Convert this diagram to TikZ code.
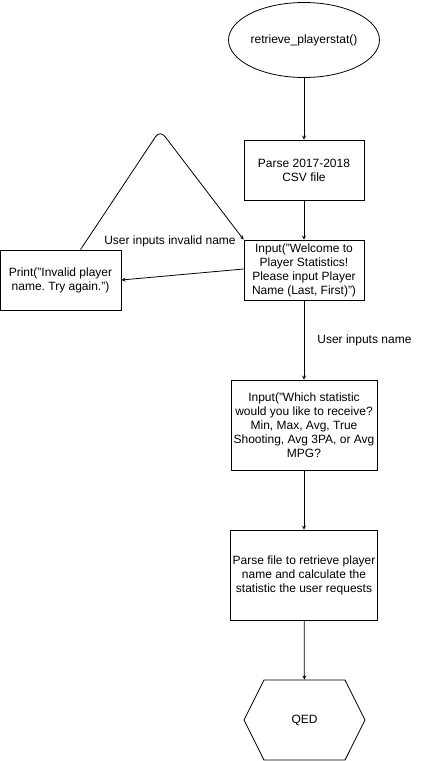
\documentclass[tikz,border=0pt]{standalone}
\usepackage{fontspec}
\setmainfont{Liberation Sans}
\frenchspacing
\usetikzlibrary{shapes.geometric,shapes.symbols}
\begin{document}
\begin{tikzpicture}[
  x=1pt, y=-1pt,
  >=stealth,
  flowbox/.style={rectangle, draw=black, line width=0.8pt, fill=white, align=center, inner sep=2pt, font={\fontsize{12}{14}\selectfont}},
  startnode/.style={ellipse, draw=black, line width=0.8pt, minimum width=117pt, minimum height=75pt, inner sep=0pt, font={\fontsize{12}{14}\selectfont}},
  endnode/.style={signal, signal to=west and east, signal pointer angle=127, draw=black, line width=0.8pt, minimum width=121pt, minimum height=80pt, inner sep=0pt, font={\fontsize{12}{14}\selectfont}},
  flowedge/.style={->, draw=black, line width=0.8pt},
  flowlbl/.style={font={\fontsize{12}{14}\selectfont}, inner sep=1pt}
]
\useasboundingbox (0,0) rectangle (421,761);
\node[startnode] (n1) at (304,40) {retrieve\_playerstat()};
\node[flowbox, minimum width=120pt, minimum height=60pt] (n2) at (304,170) {Parse 2017-2018\\CSV file};
\node[flowbox, minimum width=120pt, minimum height=60pt] (n3) at (304,270) {Input("Welcome to\\Player Statistics!\\Please input Player\\Name (Last, First)")};
\node[flowbox, minimum width=121pt, minimum height=60pt] (n4) at (60.5,280) {Print("Invalid player\\name. Try again.")};
\node[flowbox, minimum width=146pt, minimum height=90pt] (n5) at (304,425) {Input("Which statistic\\would you like to receive?\\Min, Max, Avg, True\\Shooting, Avg 3PA, or Avg\\MPG?};
\node[flowbox, minimum width=146pt, minimum height=90pt] (n6) at (304,575) {Parse file to retrieve player\\name and calculate the\\statistic the user requests};
\node[endnode] (n7) at (304.5,720) {QED};
\coordinate (apex) at (160,130);
\draw[flowedge] (n1) -- (n2);
\draw[flowedge] (n2) -- (n3);
\draw[flowedge] ([yshift=1pt]n3.west) -- (n4.east);
\draw[flowedge, rounded corners=8pt] ([xshift=20pt]n4.north) -- (apex) -- (n3.north west);
\node[flowlbl] (l1) at (170,241) {User inputs invalid name};
\draw[flowedge] (n3) -- node[flowlbl, right, xshift=12pt] {User inputs name} (n5);
\draw[flowedge] (n5) -- (n6);
\draw[flowedge] (n6) -- (n7);
\end{tikzpicture}
\end{document}
